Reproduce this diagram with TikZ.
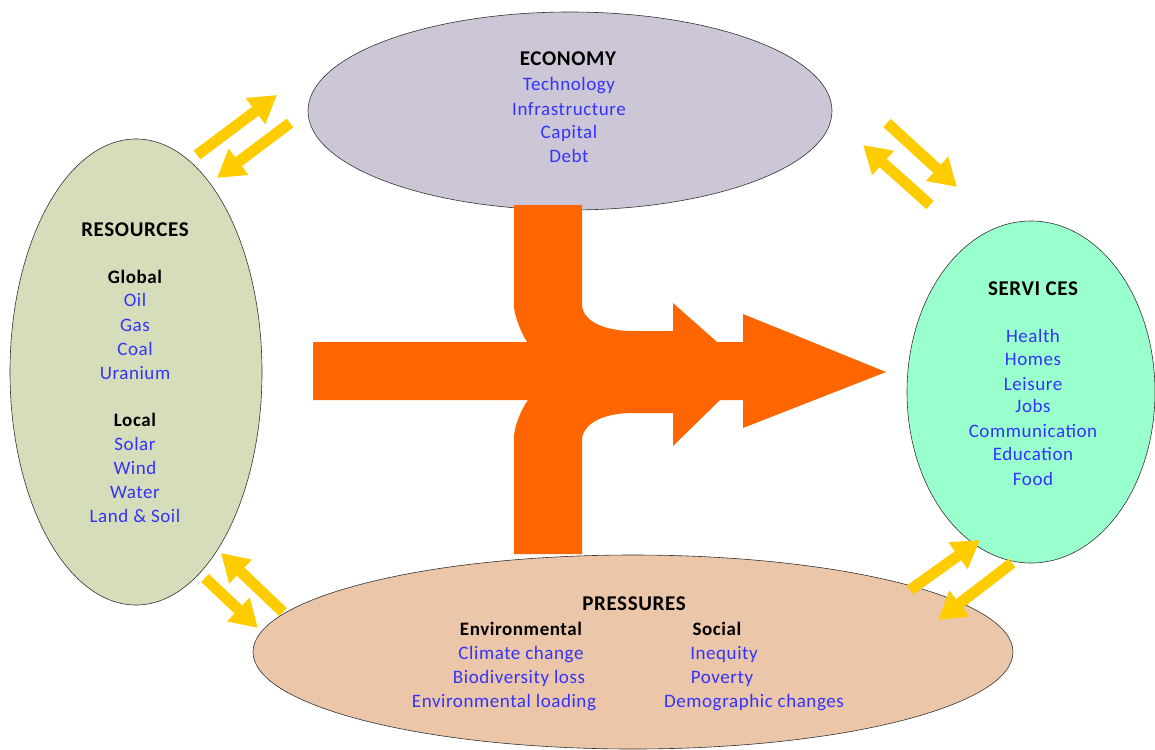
\documentclass[tikz,border=0pt]{standalone}
\usepackage{fontspec}
\setmainfont{Carlito}[LetterSpace=3]
\usetikzlibrary{arrows.meta,shapes.geometric}
\definecolor{econfill}{RGB}{204,198,214}
\definecolor{resfill}{RGB}{214,221,186}
\definecolor{servfill}{RGB}{153,255,204}
\definecolor{presfill}{RGB}{235,198,168}
\definecolor{flow}{RGB}{255,102,0}
\definecolor{swap}{RGB}{255,204,0}
\definecolor{itemblue}{RGB}{51,51,255}

\begin{document}
\begin{tikzpicture}[
  x=1pt, y=-1pt,
  sector/.style={ellipse, draw=black!80, line width=0.6pt, inner sep=0pt},
  head/.style={font=\fontsize{21}{24}\selectfont\bfseries, anchor=base},
  sub/.style={font=\fontsize{19}{24}\selectfont\bfseries, anchor=base},
  item/.style={font=\fontsize{19}{24}\selectfont, text=itemblue, anchor=base},
  swaparrow/.style={draw=swap, line width=11pt, -{Triangle[width=31pt,length=27pt]}}
]
\fill[white] (0,0) rectangle (1155,749);
\useasboundingbox (0,0) rectangle (1155,749);

% sectors
\node[sector, fill=econfill, minimum width=524pt, minimum height=198pt] (economy) at (570,111) {};
\node[sector, fill=resfill, minimum width=252pt, minimum height=466pt] (resources) at (136,372) {};
\node[sector, fill=servfill, minimum width=248pt, minimum height=342pt] (services) at (1031,392) {};
\node[sector, fill=presfill, minimum width=760pt, minimum height=194pt] (pressures) at (633,652) {};

% central flow
\fill[flow] (514,205) -- (582,205) -- (582,307)
  .. controls (585,322) and (605,331) .. (633,331) -- (673,331) -- (673,303)
  -- (717,342) -- (743,342) -- (743,314) -- (886,372) -- (743,428) -- (743,400)
  -- (720,400) -- (673,446) -- (673,413) -- (633,413)
  .. controls (605,413) and (585,422) .. (582,438) -- (582,554) -- (514,554)
  -- (514,435) .. controls (516,422) and (521,410) .. (528,400) -- (313,400)
  -- (313,342) -- (527,342) .. controls (521,332) and (516,320) .. (514,308) -- cycle;

% exchange arrows
\coordinate (re1) at (197,155);  \coordinate (re2) at (277,95);
\coordinate (er1) at (290,123);  \coordinate (er2) at (217,178);
\coordinate (es1) at (887,123);  \coordinate (es2) at (957,187);
\coordinate (se1) at (930,205);  \coordinate (se2) at (863,145);
\coordinate (ps1) at (910,590);  \coordinate (ps2) at (980,540);
\coordinate (sp1) at (1012,563); \coordinate (sp2) at (938,620);
\coordinate (pr1) at (283,612);  \coordinate (pr2) at (221,553);
\coordinate (rp1) at (205,578);  \coordinate (rp2) at (258,628);
\foreach \a/\b in {re1/re2, er1/er2, es1/es2, se1/se2, ps1/ps2, sp1/sp2, pr1/pr2, rp1/rp2}
  \draw[swaparrow] (\a) -- (\b);

% economy
\node[head] (econtitle) at (568,66) {ECONOMY};
\foreach \y/\txt in {91/Technology, 115/Infrastructure, 139/Capital, 162/Debt}
  \node[item] at (569,\y) {\txt};

% resources
\node[head] (restitle) at (135,236) {RESOURCES};
\node[sub] (global) at (135,283) {Global};
\node[sub] (local) at (135,426) {Local};
\foreach \y/\txt in {306/Oil, 331/Gas, 355/Coal, 379/Uranium,
  450/Solar, 474/Wind, 498/Water, 522/{Land \& Soil}}
  \node[item] at (135,\y) {\txt};

% services
\node[head] (servtitle) at (1033,295) {SERVI CES};
\foreach \y/\txt in {342/Health, 365/Homes, 390/Leisure, 412/Jobs,
  437/Communication, 460/Education, 485/Food}
  \node[item] at (1033,\y) {\txt};

% pressures
\node[head] (prestitle) at (634,610) {PRESSURES};
\node[sub] (environ) at (521,635) {Environmental};
\node[sub] (social) at (717,635) {Social};
\foreach \x/\y/\txt in {521/659/{Climate change}, 519/683/{Biodiversity loss},
  504/707/{Environmental loading}, 724/659/Inequity, 722/683/Poverty,
  754/707/{Demographic changes}}
  \node[item] at (\x,\y) {\txt};
\end{tikzpicture}
\end{document}
